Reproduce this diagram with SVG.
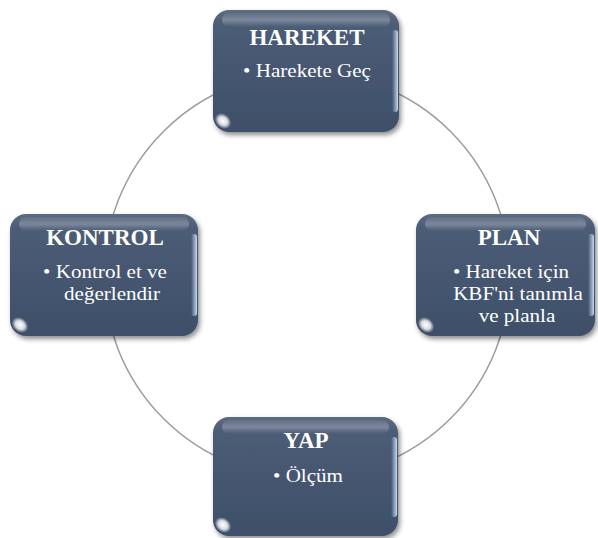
<svg xmlns="http://www.w3.org/2000/svg" width="598" height="538" viewBox="0 0 598 538">
  <defs>
    <linearGradient id="boxFill" x1="0" y1="0" x2="0" y2="1">
      <stop offset="0" stop-color="#5d6b82"/>
      <stop offset="0.12" stop-color="#4c5c76"/>
      <stop offset="1" stop-color="#3e4f69"/>
    </linearGradient>
    <linearGradient id="topSheen" x1="0" y1="0" x2="0" y2="1">
      <stop offset="0" stop-color="#ffffff" stop-opacity="0.05"/>
      <stop offset="0.5" stop-color="#ffffff" stop-opacity="0.25"/>
      <stop offset="1" stop-color="#ffffff" stop-opacity="0"/>
    </linearGradient>
    <linearGradient id="edgeGlow" x1="0" y1="0" x2="1" y2="0">
      <stop offset="0" stop-color="#bfd6f2" stop-opacity="0"/>
      <stop offset="1" stop-color="#cfe2fa" stop-opacity="0.95"/>
    </linearGradient>
    <radialGradient id="glare" cx="0.5" cy="0.5" r="0.5">
      <stop offset="0" stop-color="#ffffff" stop-opacity="1"/>
      <stop offset="0.55" stop-color="#ffffff" stop-opacity="0.8"/>
      <stop offset="1" stop-color="#ffffff" stop-opacity="0"/>
    </radialGradient>
    <filter id="shadow" x="-10%" y="-10%" width="125%" height="130%">
      <feGaussianBlur in="SourceAlpha" stdDeviation="2.5"/>
      <feOffset dx="2" dy="3" result="b"/>
      <feComponentTransfer><feFuncA type="linear" slope="0.45"/></feComponentTransfer>
      <feMerge><feMergeNode/><feMergeNode in="SourceGraphic"/></feMerge>
    </filter>
  </defs>
  <style>
    .card { fill: url(#boxFill); filter: url(#shadow); }
    .title { font-family: "Liberation Serif", "Times New Roman", serif; font-weight: bold; font-size: 23px; fill: #ffffff; text-anchor: middle; }
    /* body lines are set at 19px and widened slightly via scale() */
    .body { font-family: "Liberation Serif", "Times New Roman", serif; font-size: 19px; fill: #ffffff; text-anchor: middle; }
    .ring { fill: none; stroke: #9c9c9c; stroke-width: 1.5; }
    .sheen { fill: url(#topSheen); }
    .edge { fill: url(#edgeGlow); }
    .glare { fill: url(#glare); }
  </style>

  <rect width="598" height="538" fill="#ffffff"/>

  <g id="connectors">
    <circle class="ring" cx="307" cy="275" r="203"/>
  </g>

  <g id="hareket">
    <rect class="card" x="213" y="10" width="186" height="122" rx="16"/>
    <rect class="sheen" x="222" y="13" width="168" height="14" rx="7"/>
    <rect class="edge" x="392" y="30" width="6" height="82" rx="3"/>
    <ellipse class="glare" cx="223" cy="121" rx="9" ry="7" transform="rotate(40 223 121)"/>
    <text class="title" x="307" y="45">HAREKET</text>
    <text class="body" transform="translate(307 77) scale(1.11 1)">• Harekete Geç</text>
  </g>

  <g id="kontrol">
    <rect class="card" x="10" y="214" width="188" height="122" rx="16"/>
    <rect class="sheen" x="19" y="217" width="170" height="14" rx="7"/>
    <rect class="edge" x="191" y="234" width="6" height="82" rx="3"/>
    <ellipse class="glare" cx="20" cy="325" rx="9" ry="7" transform="rotate(40 20 325)"/>
    <text class="title" x="105" y="245">KONTROL</text>
    <text class="body" transform="translate(105 278) scale(1.11 1)">• Kontrol et ve</text>
    <text class="body" transform="translate(112 300) scale(1.11 1)">değerlendir</text>
  </g>

  <g id="plan">
    <rect class="card" x="416" y="214" width="179" height="122" rx="16"/>
    <rect class="sheen" x="425" y="217" width="161" height="14" rx="7"/>
    <rect class="edge" x="588" y="234" width="6" height="82" rx="3"/>
    <ellipse class="glare" cx="426" cy="325" rx="9" ry="7" transform="rotate(40 426 325)"/>
    <text class="title" x="509" y="245">PLAN</text>
    <text class="body" transform="translate(511 278) scale(1.11 1)">• Hareket için</text>
    <text class="body" transform="translate(518 300) scale(1.11 1)">KBF'ni tanımla</text>
    <text class="body" transform="translate(517 322) scale(1.11 1)">ve planla</text>
  </g>

  <g id="yap">
    <rect class="card" x="213" y="417" width="185" height="119" rx="16"/>
    <rect class="sheen" x="222" y="420" width="167" height="14" rx="7"/>
    <rect class="edge" x="391" y="437" width="6" height="80" rx="3"/>
    <ellipse class="glare" cx="223" cy="525" rx="9" ry="7" transform="rotate(40 223 525)"/>
    <text class="title" x="306" y="448">YAP</text>
    <text class="body" transform="translate(308 482) scale(1.11 1)">• Ölçüm</text>
  </g>
</svg>
